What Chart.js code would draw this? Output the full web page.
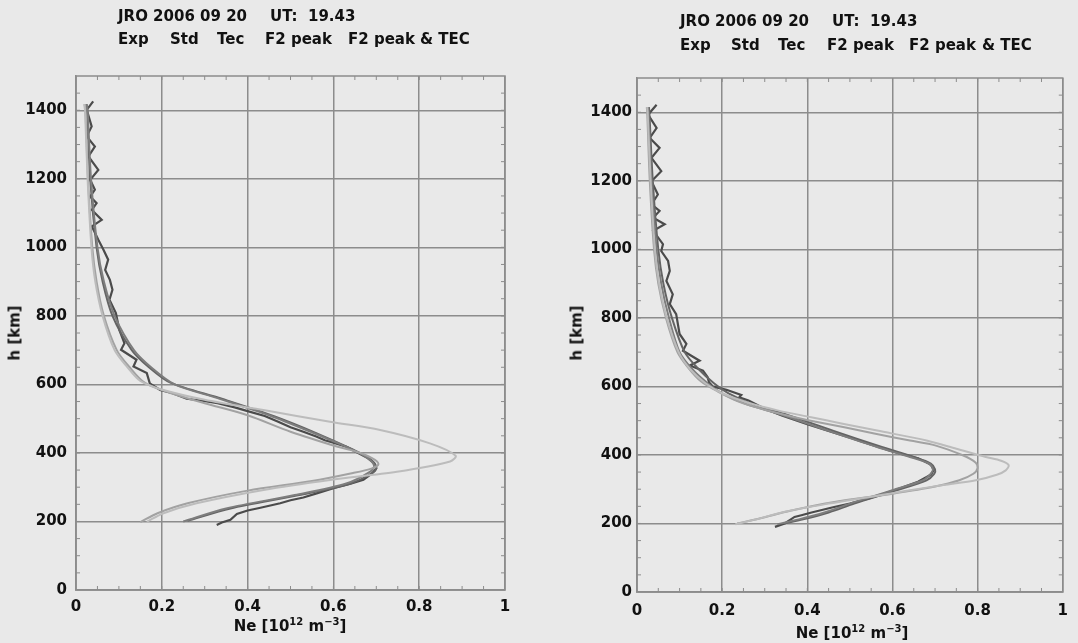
<!DOCTYPE html>
<html>
<head>
<meta charset="utf-8">
<script src="https://cdn.jsdelivr.net/npm/chart.js@4.4.1/dist/chart.umd.min.js"></script>
<style>
  html, body { margin: 0; padding: 0; }
  body { width: 1078px; height: 643px; background: #e9e9e9; position: relative; overflow: hidden;
         font-family: "DejaVu Sans", sans-serif; font-weight: bold; color: #111; }
  canvas { position: absolute; top: 0; }
  .t { position: absolute; font-size: 15px; line-height: 15px; white-space: pre; }
  .ytitle { position: absolute; font-size: 15px; line-height: 15px; white-space: pre;
            transform: translate(-50%, -50%) rotate(-90deg); }
  .xtitle { position: absolute; font-size: 15px; line-height: 15px; white-space: pre;
            transform: translateX(-50%); }
  sup { font-size: 10px; vertical-align: 6px; line-height: 0; }
</style>
</head>
<body>
<canvas id="leftChart" width="530" height="643" style="left:0"></canvas>
<canvas id="rightChart" width="538" height="643" style="left:540px"></canvas>

<div class="t" style="left:118px;top:9px">JRO 2006 09 20</div>
<div class="t" style="left:270px;top:9px">UT:</div>
<div class="t" style="left:308px;top:9px">19.43</div>
<div class="t" style="left:118px;top:32px">Exp</div>
<div class="t" style="left:170px;top:32px">Std</div>
<div class="t" style="left:217px;top:32px">Tec</div>
<div class="t" style="left:265px;top:32px">F2 peak</div>
<div class="t" style="left:348px;top:32px">F2 peak</div>
<div class="t" style="left:420px;top:32px">&amp; TEC</div>

<div class="t" style="left:680px;top:14px">JRO 2006 09 20</div>
<div class="t" style="left:832px;top:14px">UT:</div>
<div class="t" style="left:870px;top:14px">19.43</div>
<div class="t" style="left:680px;top:38px">Exp</div>
<div class="t" style="left:731px;top:38px">Std</div>
<div class="t" style="left:778px;top:38px">Tec</div>
<div class="t" style="left:827px;top:38px">F2 peak</div>
<div class="t" style="left:909px;top:38px">F2 peak</div>
<div class="t" style="left:982px;top:38px">&amp; TEC</div>

<div class="ytitle" style="left:15px;top:333px">h [km]</div>
<div class="ytitle" style="left:577px;top:333px">h [km]</div>
<div class="xtitle" style="left:290px;top:619px">Ne [10<sup>12</sup> m<sup>−3</sup>]</div>
<div class="xtitle" style="left:852px;top:626px">Ne [10<sup>12</sup> m<sup>−3</sup>]</div>

<script>
const xTicks = [0, 0.2, 0.4, 0.6, 0.8, 1];
const yTicks = [0, 200, 400, 600, 800, 1000, 1200, 1400];
const seriesNames = ["Exp", "Std", "Tec", "F2 peak", "F2 peak & TEC"];

// [Ne (1e12 m^-3), h (km)]
const leftExp = [[0.328,190],[0.34,197],[0.36,205],[0.375,222],[0.40,232],[0.43,240],[0.476,253],[0.50,262],[0.53,270],
  [0.561,282],[0.60,297],[0.64,310],[0.67,322],[0.69,340],[0.70,355],[0.695,370],[0.68,385],[0.65,405],[0.63,418],
  [0.60,430],[0.58,437],[0.56,448],[0.53,462],[0.50,475],[0.47,492],[0.44,508],[0.40,522],[0.37,533],[0.33,545],
  [0.29,553],[0.258,558],[0.225,574],[0.196,584],[0.172,603],[0.165,633],[0.134,652],[0.141,672],[0.105,701],
  [0.113,720],[0.101,759],[0.093,808],[0.078,847],[0.085,876],[0.079,905],[0.068,934],[0.075,964],[0.064,993],
  [0.052,1022],[0.037,1061],[0.06,1080],[0.037,1109],[0.048,1129],[0.033,1148],[0.044,1168],[0.033,1197],
  [0.052,1226],[0.029,1265],[0.044,1294],[0.025,1324],[0.0365,1353],[0.025,1401],[0.04,1426]];
const leftStd = [[0.165,199],[0.204,224],[0.281,253],[0.437,292],[0.592,321],[0.748,345],[0.872,375],[0.885,392],
  [0.825,428],[0.709,467],[0.592,491],[0.437,525],[0.30,555],[0.20,585],[0.15,610],[0.12,650],[0.09,700],
  [0.062,800],[0.045,900],[0.036,1000],[0.027,1200],[0.021,1400],[0.019,1418]];
const leftTec = [[0.15,198],[0.19,224],[0.26,253],[0.40,290],[0.55,318],[0.64,340],[0.69,355],[0.705,368],[0.69,385],
  [0.65,405],[0.61,418],[0.50,462],[0.40,510],[0.30,545],[0.22,575],[0.16,605],[0.125,650],[0.095,700],[0.065,800],
  [0.048,900],[0.038,1000],[0.028,1200],[0.022,1400],[0.02,1418]];
const leftF2 = [[0.25,200],[0.35,238],[0.51,277],[0.63,311],[0.685,345],[0.695,362],[0.68,385],[0.64,412],[0.55,460],
  [0.45,510],[0.33,560],[0.23,600],[0.175,650],[0.135,700],[0.09,800],[0.065,900],[0.05,1000],[0.035,1200],
  [0.027,1400],[0.025,1418]];
const leftF2Tec = [[0.26,202],[0.36,238],[0.52,277],[0.64,311],[0.695,345],[0.70,360],[0.685,383],[0.645,410],
  [0.56,458],[0.46,508],[0.34,558],[0.22,605],[0.17,650],[0.13,700],[0.085,800],[0.062,900],[0.048,1000],
  [0.033,1200],[0.026,1400],[0.024,1418]];

// right panel
const rightExp = [[0.324,190],[0.347,200],[0.37,219],[0.386,224],[0.41,232],[0.463,248],[0.50,258],[0.55,275],
  [0.60,295],[0.66,322],[0.69,342],[0.697,356],[0.69,372],[0.66,390],[0.60,410],[0.55,430],[0.50,450],[0.45,470],
  [0.40,490],[0.34,515],[0.30,535],[0.262,559],[0.24,568],[0.245,575],[0.21,590],[0.178,600],[0.169,612],
  [0.166,627],[0.155,646],[0.124,661],[0.147,675],[0.108,704],[0.116,724],[0.10,753],[0.092,811],[0.077,840],
  [0.084,869],[0.069,908],[0.077,937],[0.073,966],[0.057,995],[0.061,1015],[0.038,1054],[0.065,1073],[0.038,1092],
  [0.053,1112],[0.034,1131],[0.049,1160],[0.034,1199],[0.057,1228],[0.034,1267],[0.053,1296],[0.030,1325],
  [0.046,1354],[0.026,1393],[0.046,1422]];
const rightStd = [[0.231,198],[0.28,212],[0.35,235],[0.45,258],[0.55,278],[0.641,297],[0.72,312],[0.796,326],
  [0.845,342],[0.866,355],[0.873,370],[0.855,383],[0.819,394],[0.75,418],[0.68,442],[0.564,471],[0.48,492],
  [0.409,510],[0.33,530],[0.26,553],[0.20,580],[0.16,610],[0.125,650],[0.098,700],[0.07,800],[0.052,900],
  [0.042,1000],[0.032,1200],[0.025,1400],[0.024,1415]];
const rightTec = [[0.235,200],[0.29,215],[0.36,237],[0.46,262],[0.60,287],[0.70,308],[0.757,326],[0.79,345],
  [0.80,362],[0.795,378],[0.765,399],[0.70,428],[0.641,442],[0.56,462],[0.487,481],[0.42,497],[0.37,510],
  [0.30,532],[0.24,555],[0.19,585],[0.15,615],[0.12,655],[0.095,700],[0.068,800],[0.05,900],[0.04,1000],
  [0.03,1200],[0.024,1400],[0.023,1415]];
const rightF2 = [[0.33,198],[0.38,212],[0.44,232],[0.50,258],[0.60,297],[0.672,326],[0.69,345],[0.695,358],
  [0.685,375],[0.641,394],[0.564,423],[0.448,471],[0.332,520],[0.255,549],[0.20,580],[0.165,610],[0.13,650],
  [0.10,700],[0.075,800],[0.057,900],[0.046,1000],[0.034,1200],[0.027,1400],[0.026,1415]];
const rightF2Tec = [[0.345,200],[0.39,212],[0.45,232],[0.51,258],[0.61,297],[0.68,326],[0.698,345],[0.70,358],
  [0.69,375],[0.65,394],[0.575,423],[0.46,471],[0.345,520],[0.27,549],[0.215,580],[0.18,610],[0.145,650],
  [0.112,700],[0.082,800],[0.062,900],[0.05,1000],[0.037,1200],[0.029,1400],[0.028,1415]];

const lineColors = ["#4b4b4b", "#bcbcbc", "#a2a2a2", "#7d7d7d", "#646464"];
const gridColor = "#8c8c8c";
const tickFont = { family: "DejaVu Sans", size: 15, weight: "bold" };

// box round the plot and the little inward minor ticks
const frame = {
  id: "frame",
  afterDraw(chart) {
    const { ctx, chartArea: a, scales } = chart;
    ctx.save();
    ctx.strokeStyle = gridColor;
    ctx.lineWidth = 1.5;
    ctx.strokeRect(a.left, a.top, a.right - a.left, a.bottom - a.top);
    ctx.lineWidth = 1;
    ctx.beginPath();
    for (let v = 0.05; v < 1; v += 0.05) {
      const px = scales.x.getPixelForValue(v);
      ctx.moveTo(px, a.bottom); ctx.lineTo(px, a.bottom - 4);
      ctx.moveTo(px, a.top); ctx.lineTo(px, a.top + 4);
    }
    for (let v = 50; v < 1500; v += 50) {
      const py = scales.y.getPixelForValue(v);
      ctx.moveTo(a.left, py); ctx.lineTo(a.left + 4, py);
      ctx.moveTo(a.right, py); ctx.lineTo(a.right - 4, py);
    }
    ctx.stroke();
    ctx.restore();
  },
};

function toPoints(pairs) {
  return pairs.map(([ne, h]) => ({ x: ne, y: h }));
}

function makeChart(canvasId, series, box) {
  // draw light curves first, Exp last so it sits on top
  const order = [1, 2, 3, 4, 0];
  const datasets = order.map((i) => ({
    label: seriesNames[i],
    data: toPoints(series[i]),
    showLine: true,
    borderColor: lineColors[i],
    borderWidth: i === 0 ? 2.2 : 2,
    pointRadius: 0,
    tension: i === 0 ? 0 : 0.3, // model profiles are smooth, Exp is raw
    fill: false,
  }));
  return new Chart(document.getElementById(canvasId), {
    type: "scatter",
    data: { datasets },
    options: {
      responsive: false,
      animation: false,
      devicePixelRatio: 1,
      layout: { padding: { top: box.top, right: box.right, left: 0, bottom: 0 } },
      plugins: { legend: { display: false }, tooltip: { enabled: false } },
      scales: {
        x: {
          type: "linear", min: 0, max: 1,
          afterBuildTicks: (s) => { s.ticks = xTicks.map((v) => ({ value: v })); },
          afterFit: (s) => { s.height = box.xHeight; },
          ticks: { font: tickFont, color: "#111", padding: box.xPad, callback: (v) => String(v), maxRotation: 0 },
          grid: { color: gridColor, lineWidth: 1.5, drawTicks: false },
          border: { color: gridColor, width: 1.5 },
        },
        y: {
          type: "linear", min: 0, max: 1500,
          afterBuildTicks: (s) => { s.ticks = yTicks.map((v) => ({ value: v })); },
          afterFit: (s) => { s.width = box.yWidth; },
          ticks: { font: tickFont, color: "#111", padding: box.yPad, callback: (v) => String(v) },
          grid: { color: gridColor, lineWidth: 1.5, drawTicks: false },
          border: { color: gridColor, width: 1.5 },
        },
      },
    },
    plugins: [frame],
  });
}

makeChart("leftChart", [leftExp, leftStd, leftTec, leftF2, leftF2Tec],
  { top: 76, right: 25, yWidth: 76, xHeight: 53, yPad: 9, xPad: 8 });
makeChart("rightChart", [rightExp, rightStd, rightTec, rightF2, rightF2Tec],
  { top: 78, right: 10, yWidth: 97, xHeight: 51, yPad: 5, xPad: 10 });
</script>
</body>
</html>
